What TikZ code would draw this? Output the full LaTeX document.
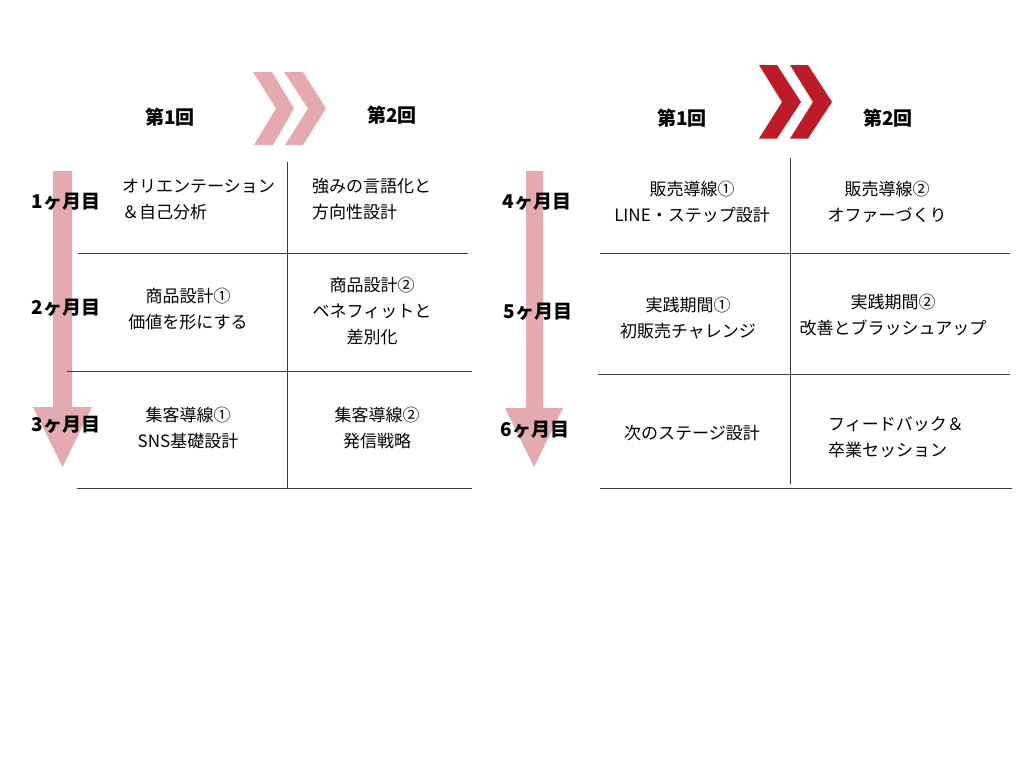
\documentclass[tikz,border=0pt]{standalone}
\usepackage{fontspec}
\setmainfont{Noto Sans CJK JP}
\definecolor{lpink}{RGB}{229,170,175}
\definecolor{dred}{RGB}{190,27,41}
\definecolor{gridc}{RGB}{60,60,60}
\begin{document}
\begin{tikzpicture}[x=1pt,y=-1pt,
  cell/.style={font=\fontsize{17}{26}\selectfont, align=center, inner sep=0pt},
  celll/.style={cell, align=left, anchor=west},
  head/.style={font=\fontsize{19}{22}\selectfont\bfseries, inner sep=0pt},
  gridline/.style={draw=gridc, line width=0.9pt},
  tarrow/.style={fill=lpink, draw=none}]
\useasboundingbox[fill=white] (0,0) rectangle (1024,768);

% timeline arrows
\fill[tarrow] (53,171) -- (72,171) -- (72,407) -- (92,407) -- (62.5,467) -- (33,407) -- (53,407) -- cycle;
\fill[tarrow] (526,171) -- (543,171) -- (543,408) -- (563,408) -- (534,467) -- (505,408) -- (526,408) -- cycle;

% chevrons
\fill[lpink] (253,72) -- (272,72) -- (294,108.5) -- (273,145) -- (254,145) -- (276,108.5) -- cycle;
\fill[lpink] (284,72) -- (303,72) -- (326,108.5) -- (303,145) -- (285,145) -- (308,108.5) -- cycle;
\fill[dred] (759,65) -- (777,65) -- (801,102) -- (777,138.5) -- (759,138.5) -- (782,102) -- cycle;
\fill[dred] (790,65) -- (808,65) -- (832,102) -- (808,138.5) -- (790,138.5) -- (813,102) -- cycle;

% left grid
\draw[gridline] (287,162) -- (287,488);
\draw[gridline] (78,253) -- (468,253);
\draw[gridline] (67,371) -- (472,371);
\draw[gridline] (77,488) -- (472,488);

% right grid
\draw[gridline] (790,158) -- (790,484);
\draw[gridline] (600,253) -- (1010,253);
\draw[gridline] (598,374) -- (1010,374);
\draw[gridline] (600,488) -- (1012,488);

% headers
\node[head] (h1) at (170,117) {第1回};
\node[head] (h2) at (392,115) {第2回};
\node[head] (h3) at (682,118) {第1回};
\node[head] (h4) at (888,118) {第2回};

% months
\node[head] (m1) at (66,202) {1ヶ月目};
\node[head] (m2) at (66,308) {2ヶ月目};
\node[head] (m3) at (66,425) {3ヶ月目};
\node[head] (m4) at (537,202) {4ヶ月目};
\node[head] (m5) at (538,312) {5ヶ月目};
\node[head] (m6) at (535,430) {6ヶ月目};

% left cells
\node[celll] (a1) at (122,199.5) {オリエンテーション\\＆自己分析};
\node[celll] (a2) at (312,199.5) {強みの言語化と\\方向性設計};
\node[cell] (b1) at (188,309) {商品設計①\\価値を形にする};
\node[cell] (b2) at (372,311) {商品設計②\\ベネフィットと\\差別化};
\node[cell] (c1) at (188,428) {集客導線①\\SNS基礎設計};
\node[cell] (c2) at (377,428) {集客導線②\\発信戦略};

% right cells
\node[cell] (d1) at (692,201.5) {販売導線①\\LINE・ステップ設計};
\node[cell] (d2) at (887,201.5) {販売導線②\\オファーづくり};
\node[cell] (e1) at (688,318.5) {実践期間①\\初販売チャレンジ};
\node[cell] (e2) at (893,315) {実践期間②\\改善とブラッシュアップ};
\node[cell] (f1) at (692,433) {次のステージ設計};
\node[celll] (f2) at (828,437.5) {フィードバック＆\\卒業セッション};
\end{tikzpicture}
\end{document}
